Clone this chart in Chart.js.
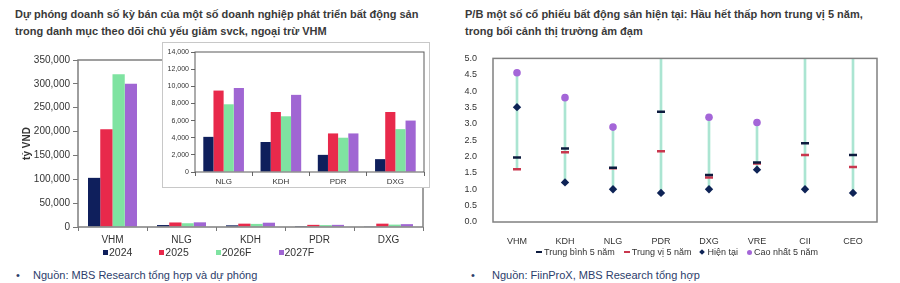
<!DOCTYPE html>
<html>
<head>
<meta charset="utf-8">
<script src="https://cdn.jsdelivr.net/npm/chart.js@4/dist/chart.umd.min.js"></script>
<style>
  html, body { margin:0; padding:0; background:#fff; }
  body { width:900px; height:283px; position:relative; overflow:hidden; font-family:"Liberation Sans", Arial, sans-serif; }
  .title { position:absolute; font-weight:bold; font-size:11px; line-height:17px; color:#3a3a3a; white-space:nowrap; }
  .src { position:absolute; font-size:11px; color:#2c3d6b; white-space:nowrap; }
  .src .b { position:absolute; left:0; }
  .src .t { position:absolute; }
  .legend { position:absolute; display:flex; align-items:center; white-space:nowrap; color:#333; }
  .legend .it { display:flex; align-items:center; }
  .sq { display:inline-block; width:5px; height:5px; margin-right:1px; }
  canvas { position:absolute; }
  #insetBox { position:absolute; left:162px; top:42px; width:268px; height:146px; border:1px solid #c8c8c8; box-sizing:border-box; background:#fff; }
</style>
</head>
<body>
<div class="title" style="left:15px;top:6px;">Dự phóng doanh số kỳ bán của một số doanh nghiệp phát triển bất động sản<br>trong danh mục theo dõi chủ yếu giảm svck, ngoại trừ VHM</div>
<div class="title" style="left:465px;top:6px;">P/B một số cổ phiếu bất động sản hiện tại: Hầu hết thấp hơn trung vị 5 năm,<br>trong bối cảnh thị trường ảm đạm</div>

<canvas id="main" style="left:0;top:50px;" width="440" height="200"></canvas>
<div id="insetBox"><canvas id="inset" style="left:0;top:0;" width="266" height="144"></canvas></div>
<canvas id="pb" style="left:450px;top:45px;" width="450" height="205"></canvas>

<div class="legend" id="legL" style="left:103px;top:246px;font-size:10.5px;"></div>
<div class="legend" id="legR" style="left:536px;top:247px;font-size:9px;"></div>

<div class="src" style="left:16px;top:269px;"><span class="b">•</span><span class="t" style="left:17px;">Nguồn: MBS Research tổng hợp và dự phóng</span></div>
<div class="src" style="left:471px;top:269px;"><span class="b">•</span><span class="t" style="left:21px;">Nguồn: FiinProX, MBS Research tổng hợp</span></div>

<script>
// ---------- Data: left chart (tỷ VND) ----------
const companies = ['VHM', 'NLG', 'KDH', 'PDR', 'DXG'];
const sales2024  = [103000, 4100, 3500, 2000, 1500];
const sales2025  = [205000, 9500, 7000, 4500, 7000];
const sales2026F = [320000, 7900, 6500, 4000, 5000];
const sales2027F = [300000, 9800, 9000, 4500, 6000];
const seriesNames = ['2024', '2025', '2026F', '2027F'];
const mainTicks = [0, 50000, 100000, 150000, 200000, 250000, 300000, 350000];
const insetTicks = [0, 2000, 4000, 6000, 8000, 10000, 12000, 14000];

// ---------- Data: right chart (P/B) ----------
const pbStocks = ['VHM', 'KDH', 'NLG', 'PDR', 'DXG', 'VRE', 'CII', 'CEO'];
const pbMean5y   = [1.97, 2.25, 1.66, 3.37, 1.44, 1.82, 2.41, 2.05];
const pbMedian5y = [1.61, 2.13, 1.64, 2.16, 1.36, 1.79, 2.05, 1.68];
const pbCurrent  = [3.51, 1.21, 1.00, 0.89, 1.00, 1.60, 1.00, 0.89];
const pbMax5y    = [4.56, 3.80, 2.90, 7.50, 3.20, 3.04, 6.80, 8.00];
const pbTicks = [0, 0.5, 1, 1.5, 2, 2.5, 3, 3.5, 4, 4.5, 5];
const pbNames = ['Trung bình 5 năm', 'Trung vị 5 năm', 'Hiện tại', 'Cao nhất 5 năm'];

// ---------- Styles ----------
const barColors = ['#0f1f5c', '#e8294b', '#7fe3a1', '#a066d3'];
const FONT = '"Liberation Sans", Arial, sans-serif';
Chart.defaults.font.family = FONT;
Chart.defaults.color = '#333';
Chart.defaults.animation = false;

function boxPlugin(color, width) {
  return {
    id: 'plotBox',
    afterDatasetsDraw(chart) {
      const a = chart.chartArea, c = chart.ctx;
      c.save();
      c.strokeStyle = color; c.lineWidth = width;
      c.strokeRect(a.left, a.top, a.right - a.left, a.bottom - a.top);
      c.restore();
    }
  };
}
function fixedTicks(values) {
  return function(scale) { scale.ticks = values.map(v => ({ value: v })); };
}
const fmt = v => Number(v).toLocaleString('en-US');

function barDatasets(sliceFrom) {
  return [sales2024, sales2025, sales2026F, sales2027F].map((arr, i) => ({
    label: seriesNames[i],
    data: arr.slice(sliceFrom),
    backgroundColor: barColors[i],
    categoryPercentage: 0.71,
    barPercentage: 1.0
  }));
}

// ---------- Main bar chart ----------
new Chart(document.getElementById('main'), {
  type: 'bar',
  data: { labels: companies, datasets: barDatasets(0) },
  options: {
    responsive: false,
    layout: { padding: { top: 10, right: 17, left: 0, bottom: 0 } },
    plugins: { legend: { display: false }, tooltip: { enabled: false } },
    scales: {
      x: {
        grid: { display: true, offset: true, drawOnChartArea: false, tickLength: 4, color: '#777' },
        border: { display: false },
        ticks: { padding: 3, font: { size: 10 }, color: '#333' },
        afterFit(s) { s.height = 23; }
      },
      y: {
        min: 0, max: 350000,
        afterBuildTicks: fixedTicks(mainTicks),
        grid: { display: true, drawOnChartArea: false, tickLength: 5, color: '#777' },
        border: { display: false },
        ticks: { padding: 3, font: { size: 10 }, color: '#333', callback: v => fmt(v) },
        title: { display: true, text: 'tỷ VND', font: { size: 10, weight: 'bold' }, color: '#333', padding: { top: 21, bottom: 4 } },
        afterFit(s) { s.width = 78; }
      }
    }
  },
  plugins: [boxPlugin('#7f7f7f', 1.5)]
});

// ---------- Inset bar chart (excluding VHM) ----------
new Chart(document.getElementById('inset'), {
  type: 'bar',
  data: { labels: companies.slice(1), datasets: barDatasets(1) },
  options: {
    responsive: false,
    layout: { padding: { top: 9, right: 5, left: 0, bottom: 0 } },
    plugins: { legend: { display: false }, tooltip: { enabled: false } },
    scales: {
      x: {
        grid: { display: true, offset: true, drawOnChartArea: false, tickLength: 4, color: '#666' },
        border: { display: false },
        ticks: { padding: 1, font: { size: 8 }, color: '#333' },
        afterFit(s) { s.height = 15; }
      },
      y: {
        min: 0, max: 14000,
        afterBuildTicks: fixedTicks(insetTicks),
        grid: { display: true, drawOnChartArea: false, tickLength: 4, color: '#666' },
        border: { display: false },
        ticks: { padding: 2, font: { size: 7 }, color: '#333', callback: v => fmt(v) },
        afterFit(s) { s.width = 32; }
      }
    }
  },
  plugins: [boxPlugin('#5a5a5a', 1)]
});

// ---------- P/B chart ----------
const pbLow = pbStocks.map((_, i) => Math.min(pbMean5y[i], pbMedian5y[i], pbCurrent[i], pbMax5y[i]));
const pbHigh = pbStocks.map((_, i) => Math.max(pbMean5y[i], pbMedian5y[i], pbCurrent[i], pbMax5y[i]));

new Chart(document.getElementById('pb'), {
  data: {
    labels: pbStocks,
    datasets: [
      { type: 'bar', label: 'range', data: pbLow.map((l, i) => [l, pbHigh[i]]), backgroundColor: '#abe5d2', barThickness: 2, order: 10, clip: 0 },
      { type: 'line', label: pbNames[0], data: pbMean5y, showLine: false, pointStyle: 'line', pointRadius: 4, pointBorderWidth: 2.5, borderColor: '#0d1b3e', backgroundColor: '#0d1b3e', order: 2, clip: 0 },
      { type: 'line', label: pbNames[1], data: pbMedian5y, showLine: false, pointStyle: 'line', pointRadius: 4, pointBorderWidth: 2.5, borderColor: '#c9374e', backgroundColor: '#c9374e', order: 3, clip: 0 },
      { type: 'line', label: pbNames[2], data: pbCurrent, showLine: false, pointStyle: 'rectRot', pointRadius: 4.2, pointBorderWidth: 0, borderColor: '#0e2356', backgroundColor: '#0e2356', order: 1, clip: 0 },
      { type: 'line', label: pbNames[3], data: pbMax5y, showLine: false, pointStyle: 'circle', pointRadius: 3.8, pointBorderWidth: 0, borderColor: '#a466d8', backgroundColor: '#a466d8', order: 1, clip: 0 }
    ]
  },
  options: {
    responsive: false,
    layout: { padding: { top: 7, right: 23, left: 0, bottom: 0 } },
    plugins: { legend: { display: false }, tooltip: { enabled: false } },
    scales: {
      x: {
        grid: { display: false },
        border: { display: false },
        ticks: { padding: 6, font: { size: 9 }, color: '#333' },
        afterFit(s) { s.height = 28; }
      },
      y: {
        min: 0, max: 5,
        afterBuildTicks: fixedTicks(pbTicks),
        grid: { display: false },
        border: { display: false },
        ticks: { padding: 8, font: { size: 9 }, color: '#333', callback: v => Number(v).toFixed(1) },
        afterFit(s) { s.width = 43; }
      }
    }
  },
  plugins: [boxPlugin('#808080', 1.5)]
});

// ---------- HTML legends ----------
const legL = document.getElementById('legL');
seriesNames.forEach((n, i) => {
  const it = document.createElement('span');
  it.className = 'it';
  it.style.marginRight = i < seriesNames.length - 1 ? '27px' : '0';
  it.innerHTML = '<span class="sq" style="background:' + barColors[i] + '"></span>' + n;
  legL.appendChild(it);
});
const legR = document.getElementById('legR');
const rSyms = [
  '<span style="display:inline-block;width:6px;height:2px;background:#0d1b3e;margin-right:2px"></span>',
  '<span style="display:inline-block;width:6px;height:2px;background:#c9374e;margin-right:2px"></span>',
  '<span style="display:inline-block;width:4px;height:4px;background:#0e2356;transform:rotate(45deg);margin-right:3px"></span>',
  '<span style="display:inline-block;width:5px;height:5px;border-radius:50%;background:#a466d8;margin-right:2px"></span>'
];
pbNames.forEach((n, i) => {
  const it = document.createElement('span');
  it.className = 'it';
  it.style.marginRight = i < pbNames.length - 1 ? '9px' : '0';
  it.innerHTML = rSyms[i] + n;
  legR.appendChild(it);
});
</script>
</body>
</html>
